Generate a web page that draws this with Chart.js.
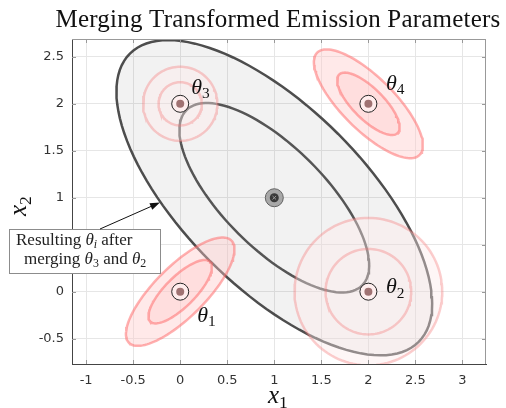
<!DOCTYPE html>
<html>
<head>
    <title>Merging Transformed Emission Parameters</title>
    <script src="https://cdn.jsdelivr.net/npm/chart.js"></script>
    <style>body { margin: 0; background: #fff; }</style>
</head>
<body>
    <canvas id="myChart" width="506" height="408"></canvas>

    <script>
        // tick values
        var xTicks = [-1, -0.5, 0, 0.5, 1, 1.5, 2, 2.5, 3];
        var yTicks = [-0.5, 0, 0.5, 1, 1.5, 2, 2.5];

        // emission parameters theta_1..theta_4: centre, contour half axes, tilt (deg)
        var paramNames = ['1', '2', '3', '4'];
        var centerX = [0, 2, 0, 2];
        var centerY = [0, 0, 2, 2];
        var outerMajor = [0.77, 0.785, 0.395, 0.77];
        var outerMinor = [0.27, 0.785, 0.395, 0.28];
        var innerMajor = [0.45, 0.455, 0.23, 0.44];
        var innerMinor = [0.16, 0.455, 0.23, 0.165];
        var tiltDeg = [45, 0, 0, -45];
        var wasMerged = [false, true, true, false];

        // resulting theta_i after merging theta_3 and theta_2
        var mergedCenter = [1, 1];
        var mergedOuter = [2.17, 0.96];
        var mergedInner = [1.32, 0.54];
        var mergedTilt = -45;

        // where the theta labels sit relative to their marker (px)
        var labelDx = [17, 17.5, 11, 17.5];
        var labelDy = [30, 1.5, -10, -14];

        function ellipse(cx, cy, a, b, deg) {
            var t = deg * Math.PI / 180, pts = [];
            for (var i = 0; i <= 120; i++) {
                var s = i / 120 * 2 * Math.PI;
                var u = a * Math.cos(s), v = b * Math.sin(s);
                pts.push({ x: cx + u * Math.cos(t) - v * Math.sin(t), y: cy + u * Math.sin(t) + v * Math.cos(t) });
            }
            return pts;
        }

        function contour(pts, stroke, fillColor, order) {
            return {
                data: pts, showLine: true, tension: 0,
                borderColor: stroke, borderWidth: 2.5,
                fill: fillColor ? 'shape' : false, backgroundColor: fillColor || 'transparent',
                pointRadius: 0, pointHoverRadius: 0, clip: 0, order: order
            };
        }

        var datasets = [];
        // merged gaussian first (lowest)
        datasets.push(contour(ellipse(mergedCenter[0], mergedCenter[1], mergedOuter[0], mergedOuter[1], mergedTilt), '#4d4d4d', 'rgba(0,0,0,0.05)', 20));
        datasets.push(contour(ellipse(mergedCenter[0], mergedCenter[1], mergedInner[0], mergedInner[1], mergedTilt), '#555555', null, 19));

        for (var k = 0; k < paramNames.length; k++) {
            var faded = wasMerged[k];
            var stroke = faded ? 'rgba(245,120,120,0.36)' : 'rgba(255,100,100,0.5)';
            var fillOuter = faded ? 'rgba(252,232,232,0.4)' : 'rgba(255,200,200,0.4)';
            var fillInner = faded ? null : 'rgba(255,200,200,0.3)';
            datasets.push(contour(ellipse(centerX[k], centerY[k], outerMajor[k], outerMinor[k], tiltDeg[k]), stroke, fillOuter, 15 - k * 2));
            datasets.push(contour(ellipse(centerX[k], centerY[k], innerMajor[k], innerMinor[k], tiltDeg[k]), stroke, fillInner, 14 - k * 2));
        }

        var centers = centerX.map(function (x, i) { return { x: x, y: centerY[i] }; });
        datasets.push({ data: centers, pointRadius: 8.5, borderWidth: 1, borderColor: '#222', backgroundColor: 'rgba(255,238,238,0.9)', order: 3 });
        datasets.push({ data: centers, pointRadius: 4, borderWidth: 0, backgroundColor: '#a07272', order: 2 });
        var mc = [{ x: mergedCenter[0], y: mergedCenter[1] }];
        datasets.push({ data: mc, pointRadius: 9, borderWidth: 1, borderColor: '#606060', backgroundColor: '#a8a8a8', order: 3 });
        datasets.push({ data: mc, pointRadius: 4.5, borderWidth: 0, backgroundColor: '#3a3a3a', order: 2 });
        datasets.push({ data: mc, pointRadius: 2.5, pointStyle: 'crossRot', borderWidth: 1, borderColor: '#999', order: 1 });

        function rich(ctx, parts, x, y, size) {
            parts.forEach(function (p) {
                var fs = p[2] ? size * 0.7 : size;
                ctx.font = (p[1] ? 'italic ' : '') + fs + 'px "Liberation Serif"';
                ctx.fillText(p[0], x, y + (p[2] ? size * 0.2 : 0));
                x += ctx.measureText(p[0]).width;
            });
        }

        var overlay = {
            id: 'overlay',
            afterDatasetsDraw: function (chart) {
                var c = chart.ctx, a = chart.chartArea, xs = chart.scales.x, ys = chart.scales.y;
                c.save();
                c.strokeStyle = '#999';
                c.lineWidth = 1;
                c.beginPath();
                c.moveTo(a.left, a.top + 0.5); c.lineTo(a.right, a.top + 0.5);
                c.moveTo(a.right - 0.5, a.top); c.lineTo(a.right - 0.5, a.bottom);
                xTicks.forEach(function (v) {
                    var p = Math.round(xs.getPixelForValue(v)) + 0.5;
                    c.moveTo(p, a.top); c.lineTo(p, a.top + 4);
                    c.moveTo(p, a.bottom); c.lineTo(p, a.bottom - 4);
                });
                yTicks.forEach(function (v) {
                    var p = Math.round(ys.getPixelForValue(v)) + 0.5;
                    c.moveTo(a.left, p); c.lineTo(a.left + 4, p);
                    c.moveTo(a.right, p); c.lineTo(a.right - 4, p);
                });
                c.stroke();

                // theta labels
                c.fillStyle = '#111';
                c.textBaseline = 'alphabetic';
                c.textAlign = 'left';
                for (var i = 0; i < paramNames.length; i++) {
                    var px = xs.getPixelForValue(centerX[i]) + labelDx[i];
                    var py = ys.getPixelForValue(centerY[i]) + labelDy[i];
                    rich(c, [['θ', true], [paramNames[i], false, true]], px, py, 22);
                }
                c.restore();
            },
            afterDraw: function (chart) {
                var c = chart.ctx;
                c.save();
                c.fillStyle = '#111';
                c.textBaseline = 'alphabetic';

                // title, fitted to the reference width
                var title = 'Merging Transformed Emission Parameters';
                c.font = '25px "Liberation Serif"';
                var w = c.measureText(title).width;
                c.letterSpacing = ((445 - w) / title.length).toFixed(2) + 'px';
                w = c.measureText(title).width;
                c.textAlign = 'left';
                c.fillText(title, 278 - w / 2, 27);
                c.letterSpacing = '0px';

                // axis labels
                rich(c, [['x', true], ['1', false, true]], 268, 403, 25);
                c.save();
                c.translate(26, 216);
                c.rotate(-Math.PI / 2);
                rich(c, [['x', true], ['2', false, true]], 0, 0, 25);
                c.restore();

                // annotation box + arrow
                c.fillStyle = '#fff';
                c.fillRect(9.5, 229.5, 151, 44);
                c.strokeStyle = '#8c8c8c';
                c.lineWidth = 1;
                c.strokeRect(9.5, 229.5, 151, 44);

                var x0 = 100, y0 = 229, x1 = 160, y1 = 202.5;
                var ang = Math.atan2(y1 - y0, x1 - x0);
                c.strokeStyle = '#111';
                c.beginPath();
                c.moveTo(x0, y0);
                c.lineTo(x1 - 8 * Math.cos(ang), y1 - 8 * Math.sin(ang));
                c.stroke();
                c.fillStyle = '#111';
                c.beginPath();
                c.moveTo(x1, y1);
                c.lineTo(x1 - 10 * Math.cos(ang) + 3.5 * Math.sin(ang), y1 - 10 * Math.sin(ang) - 3.5 * Math.cos(ang));
                c.lineTo(x1 - 10 * Math.cos(ang) - 3.5 * Math.sin(ang), y1 - 10 * Math.sin(ang) + 3.5 * Math.cos(ang));
                c.closePath();
                c.fill();

                c.fillStyle = '#222';
                rich(c, [['Resulting ', false], ['θ', true], ['i', true, true], [' after', false]], 16, 245, 17);
                rich(c, [['merging ', false], ['θ', true], ['3', false, true], [' and ', false], ['θ', true], ['2', false, true]], 24, 264, 17);
                c.restore();
            }
        };

        var ctx = document.getElementById('myChart').getContext('2d');
        var myChart = new Chart(ctx, {
            type: 'scatter',
            data: { datasets: datasets },
            options: {
                responsive: false,
                animation: false,
                layout: { padding: { top: 39, right: 20, left: 0, bottom: 0 } },
                plugins: { legend: { display: false }, tooltip: { enabled: false } },
                scales: {
                    x: {
                        type: 'linear', min: -1.15, max: 3.25,
                        afterBuildTicks: function (s) { s.ticks = xTicks.map(function (v) { return { value: v }; }); },
                        afterFit: function (s) { s.height = 44; },
                        grid: { color: '#e6e6e6', drawTicks: false },
                        border: { color: '#444' },
                        ticks: { padding: 9, autoSkip: false, maxRotation: 0, color: '#333',
                                 font: { family: 'DejaVu Sans', size: 13 },
                                 callback: function (v) { return String(v); } }
                    },
                    y: {
                        type: 'linear', min: -0.77, max: 2.69,
                        afterBuildTicks: function (s) { s.ticks = yTicks.map(function (v) { return { value: v }; }); },
                        afterFit: function (s) { s.width = 72; },
                        grid: { color: '#e6e6e6', drawTicks: false },
                        border: { color: '#444' },
                        ticks: { padding: 8, autoSkip: false, color: '#333',
                                 font: { family: 'DejaVu Sans', size: 13 },
                                 callback: function (v) { return String(v); } }
                    }
                }
            },
            plugins: [overlay]
        });
    </script>
</body>
</html>
